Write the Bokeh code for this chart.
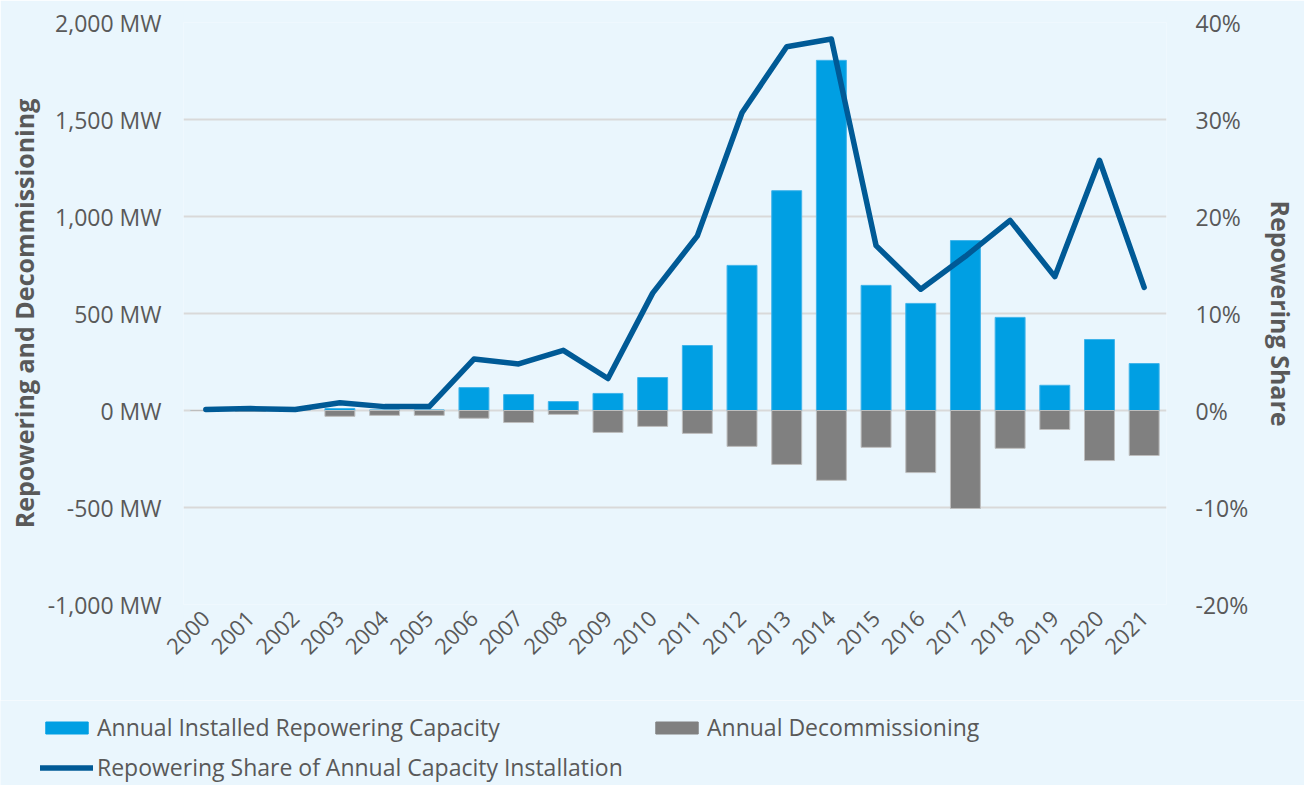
from bokeh.plotting import figure
from bokeh.layouts import column
from bokeh.models import (Range1d, FactorRange, LinearAxis, FixedTicker, CustomJSTickFormatter,
                          PrintfTickFormatter, Legend, LegendItem, ColumnDataSource)
from bokeh.embed import file_html
from bokeh.resources import INLINE
import math

years = [str(y) for y in range(2000, 2022)]
repowering_mw = [0, 0, 0, 10, 3, 3, 118, 82, 46, 88, 170, 335, 748, 1133, 1805, 645, 552, 876, 480, 130, 366, 242]
decommissioning_mw = [0, -5, 0, -30, -25, -25, -40, -62, -20, -113, -82, -118, -185, -278, -360, -190, -320, -505, -195, -98, -258, -232]
repowering_share_pct = [0.1, 0.2, 0.1, 0.8, 0.4, 0.4, 5.3, 4.8, 6.2, 3.3, 12.1, 18.0, 30.7, 37.5, 38.3, 17.0, 12.5, 15.9, 19.6, 13.8, 25.8, 12.7]
left_ticks = [-1000, -500, 0, 500, 1000, 1500, 2000]
right_ticks = [-20, -10, 0, 10, 20, 30, 40]
legend_labels = ["Annual Installed Repowering Capacity", "Annual Decommissioning",
                 "Repowering Share of Annual Capacity Installation"]

BG = "#EAF6FD"
TXT = "#595959"
FONT = "Open Sans"
BLUE = "#009FE3"
GREY = "#808080"
DARK = "#005A96"
W = 1304
H1, H2 = 700, 85

src = ColumnDataSource(dict(year=years, rep=repowering_mw, dec=decommissioning_mw, share=repowering_share_pct))

p = figure(width=W, height=H1, x_range=FactorRange(*years, range_padding=0),
           y_range=Range1d(-1000, 2000), output_backend="svg", toolbar_location=None,
           min_border_left=183, min_border_right=W - 1166, min_border_top=22, min_border_bottom=H1 - 604)
p.frame_align = False
p.background_fill_color = BG
p.border_fill_color = BG
p.outline_line_color = None
p.extra_y_ranges = {"pct": Range1d(-20, 40)}

p.xgrid.grid_line_color = None
p.ygrid.grid_line_color = "#D9D9D9"
p.ygrid.grid_line_width = 2
p.ygrid.ticker = FixedTicker(ticks=left_ticks)

p.vbar(x="year", top="rep", bottom=0, width=0.67, source=src, fill_color=BLUE,
       line_color="#40B4EA", line_width=1)
p.vbar(x="year", top=0, bottom="dec", width=0.67, source=src, fill_color=GREY,
       line_color="#BDBDBD", line_width=1)
p.line(x="year", y="share", source=src, y_range_name="pct", line_color=DARK, line_width=5.5,
       line_join="round", line_cap="round")

# left axis
ya = p.yaxis[0]
ya.ticker = FixedTicker(ticks=left_ticks)
ya.formatter = CustomJSTickFormatter(code="return tick.toLocaleString('en-US') + ' MW';")
ya.axis_label = "Repowering and Decommissioning"
ya.axis_label_text_font = FONT
ya.axis_label_text_font_style = "bold"
ya.axis_label_text_font_size = "25px"
ya.axis_label_text_color = TXT
ya.axis_label_standoff = 4
ya.major_label_text_font = FONT
ya.major_label_text_font_size = "23px"
ya.major_label_text_color = TXT
ya.major_label_standoff = 22
ya.major_tick_out = 0
ya.major_tick_in = 0
ya.axis_line_color = None
ya.major_tick_line_color = None
ya.minor_tick_line_color = None

# right axis
ra = LinearAxis(y_range_name="pct", ticker=FixedTicker(ticks=right_ticks),
                formatter=PrintfTickFormatter(format="%d%%"))
ra.axis_label = "Repowering Share"
ra.axis_label_text_font = FONT
ra.axis_label_text_font_style = "bold"
ra.axis_label_text_font_size = "25px"
ra.axis_label_text_color = TXT
ra.axis_label_standoff = 13
ra.major_label_text_font = FONT
ra.major_label_text_font_size = "23px"
ra.major_label_text_color = TXT
ra.major_label_standoff = 29
ra.major_tick_out = 0
ra.major_tick_in = 0
ra.axis_line_color = None
ra.major_tick_line_color = None
ra.minor_tick_line_color = None
p.add_layout(ra, "right")

# x axis
xa = p.xaxis[0]
xa.major_label_orientation = math.pi / 4
xa.major_label_text_font = FONT
xa.major_label_text_font_size = "22px"
xa.major_label_text_color = TXT
xa.major_label_standoff = 10
xa.major_tick_out = 0
xa.major_tick_in = 0
xa.axis_line_color = None
xa.major_tick_line_color = None
xa.minor_tick_line_color = None

# legend strip: separate figure whose frame spans the whole strip
lg = figure(width=W, height=H2, x_range=Range1d(0, 1), y_range=Range1d(0, 1),
            output_backend="svg", toolbar_location=None, x_axis_type=None, y_axis_type=None,
            min_border=0)
lg.frame_align = False
lg.background_fill_color = BG
lg.border_fill_color = BG
lg.outline_line_color = None
lg.grid.grid_line_color = None
# legend-only renderers, with their points placed outside the visible range
dummy = ColumnDataSource(dict(x=[-10, -9], y=[-10, -10]))
g_rep = lg.vbar(x="x", top="y", width=0.1, source=dummy, fill_color=BLUE, line_color=BLUE)
g_dec = lg.vbar(x="x", top="y", width=0.1, source=dummy, fill_color=GREY, line_color=GREY)
g_line = lg.line(x="x", y="y", source=dummy, line_color=DARK, line_width=5.5, line_cap="round")


def add_legend(label, rend, loc):
    leg = Legend(items=[LegendItem(label=label, renderers=[rend], index=0)], location=loc)
    leg.background_fill_alpha = 0
    leg.border_line_color = None
    leg.padding = 0
    leg.margin = 0
    leg.spacing = 0
    leg.glyph_width = 53
    leg.glyph_height = 15
    leg.label_standoff = 4
    leg.label_text_font = FONT
    leg.label_text_font_size = "23px"
    leg.label_text_color = TXT
    leg.label_height = 15
    lg.add_layout(leg, "center")


add_legend(legend_labels[0], g_rep, (40, 42))
add_legend(legend_labels[1], g_dec, (650, 42))
add_legend(legend_labels[2], g_line, (40, 2))

layout = column(p, lg, spacing=0)
open("out.html", "w").write(file_html(layout, INLINE))
